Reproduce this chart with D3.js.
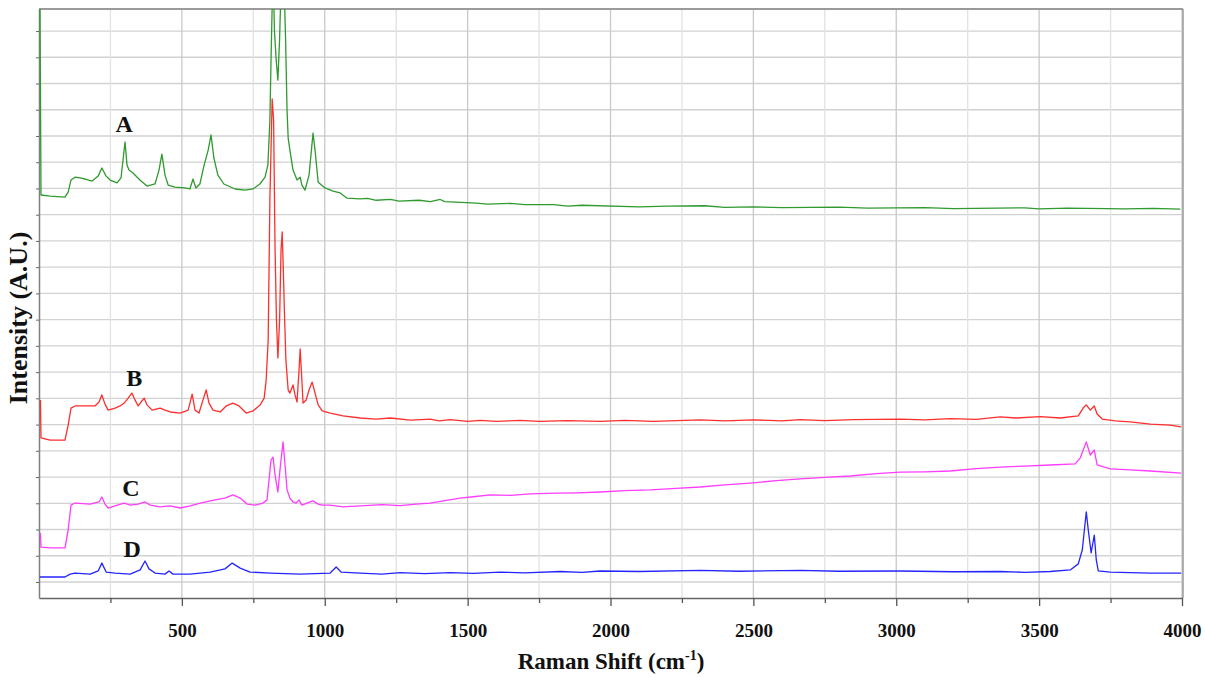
<!DOCTYPE html>
<html>
<head>
<meta charset="utf-8">
<script src="https://cdn.jsdelivr.net/npm/d3@7"></script>
<style>
	body { margin: 0; background: #fff; }
	#graphicContainer { width: 1205px; height: 677px; }
	.label { font-family: "Liberation Serif", "Times New Roman", serif; font-weight: bold; fill: #111; }
</style>
</head>
<body>
<div id="graphicContainer"></div>
<script>

// Raman shift (cm-1) and intensity (a.u., one unit = one grid row)
var shiftA = [3, 7, 39, 91, 102, 112, 126, 144, 161, 186, 207, 220, 235, 249, 273, 287, 301, 308, 315, 329, 353, 378, 406, 420, 430, 441, 452, 476, 511, 528, 539, 549, 563, 577, 592, 602, 612, 626, 647, 686, 721, 749, 773, 791, 801, 808, 812, 819, 824, 830, 836, 842, 849, 857, 863, 868, 872, 878, 889, 903, 914, 920, 931, 945, 959, 966, 977, 1001, 1029, 1054, 1078, 1124, 1150, 1180, 1230, 1260, 1330, 1370, 1404, 1420, 1460, 1530, 1570, 1650, 1700, 1800, 1850, 1900, 2100, 2200, 2330, 2400, 2500, 2600, 2800, 2900, 3100, 3200, 3450, 3500, 3600, 3800, 3900, 3994]
var intA = [23, 14.75, 14.71, 14.67, 14.86, 15.32, 15.43, 15.40, 15.36, 15.28, 15.47, 15.78, 15.47, 15.32, 15.21, 15.40, 16.77, 15.89, 15.70, 15.59, 15.32, 15.09, 15.17, 15.70, 16.31, 15.51, 15.13, 15.05, 15.02, 14.98, 15.36, 15.02, 15.17, 15.85, 16.46, 17.04, 16.16, 15.51, 15.17, 14.98, 14.94, 14.98, 15.17, 15.43, 15.89, 17.61, 19.9, 23.5, 21.0, 19.9, 19.13, 20.7, 23.5, 23.0, 20.66, 17.99, 16.92, 16.46, 15.70, 15.32, 15.43, 15.13, 14.94, 15.51, 17.11, 16.46, 15.24, 15.02, 14.90, 14.83, 14.63, 14.60, 14.62, 14.55, 14.58, 14.52, 14.55, 14.50, 14.58, 14.50, 14.48, 14.44, 14.40, 14.43, 14.38, 14.38, 14.33, 14.36, 14.30, 14.33, 14.34, 14.28, 14.30, 14.27, 14.29, 14.25, 14.27, 14.23, 14.26, 14.22, 14.25, 14.22, 14.24, 14.21]

var shiftB = [5, 7, 39, 91, 102, 112, 126, 161, 196, 210, 220, 231, 242, 266, 284, 298, 312, 325, 336, 347, 357, 368, 378, 396, 424, 441, 459, 494, 522, 536, 546, 560, 574, 585, 595, 609, 634, 655, 679, 700, 725, 749, 774, 788, 795, 802, 808, 816, 821, 826, 831, 836, 842, 847, 851, 854, 859, 864, 872, 878, 889, 896, 903, 910, 914, 919, 924, 935, 945, 956, 966, 977, 991, 1019, 1064, 1124, 1180, 1229, 1300, 1369, 1400, 1439, 1500, 1544, 1600, 1684, 1750, 1850, 1964, 2050, 2150, 2314, 2400, 2500, 2600, 2664, 2750, 2850, 3014, 3100, 3189, 3280, 3364, 3420, 3504, 3574, 3637, 3654, 3665, 3679, 3693, 3703, 3721, 3766, 3819, 3889, 3959, 3997]
var intB = [6.94, 5.49, 5.41, 5.41, 5.98, 6.63, 6.71, 6.71, 6.71, 6.86, 7.13, 6.78, 6.55, 6.63, 6.71, 6.82, 7.01, 7.20, 6.94, 6.71, 6.86, 7.01, 6.75, 6.55, 6.63, 6.55, 6.48, 6.44, 6.55, 7.16, 6.55, 6.44, 6.94, 7.32, 6.82, 6.55, 6.48, 6.71, 6.82, 6.71, 6.44, 6.52, 6.75, 7.01, 7.70, 9.22, 14.56, 18.41, 17.61, 12.77, 9.98, 8.54, 9.98, 12.65, 13.34, 12.27, 10.25, 8.46, 7.32, 7.20, 7.51, 7.13, 6.86, 8.08, 8.88, 7.89, 6.82, 6.94, 7.32, 7.62, 7.20, 6.75, 6.52, 6.44, 6.33, 6.25, 6.21, 6.25, 6.17, 6.21, 6.14, 6.19, 6.12, 6.16, 6.12, 6.16, 6.12, 6.15, 6.12, 6.16, 6.12, 6.18, 6.14, 6.18, 6.14, 6.19, 6.15, 6.19, 6.21, 6.18, 6.23, 6.20, 6.29, 6.25, 6.30, 6.25, 6.33, 6.63, 6.75, 6.55, 6.71, 6.40, 6.21, 6.14, 6.10, 6.02, 5.98, 5.91]

var shiftC = [5, 7, 39, 91, 102, 112, 126, 179, 210, 220, 231, 242, 266, 298, 319, 347, 371, 389, 424, 459, 494, 529, 564, 616, 651, 679, 704, 728, 756, 784, 798, 805, 812, 819, 826, 836, 845, 854, 861, 868, 878, 889, 900, 910, 920, 938, 959, 977, 991, 1019, 1064, 1124, 1200, 1264, 1320, 1369, 1420, 1474, 1520, 1579, 1650, 1719, 1806, 1880, 1964, 2050, 2139, 2230, 2314, 2400, 2489, 2580, 2664, 2750, 2839, 2930, 3014, 3100, 3189, 3280, 3364, 3450, 3539, 3626, 3644, 3665, 3679, 3693, 3703, 3749, 3819, 3889, 3997]
var intC = [1.87, 1.33, 1.30, 1.30, 1.98, 2.93, 3.01, 2.97, 3.05, 3.24, 2.97, 2.82, 2.90, 3.01, 2.93, 2.97, 3.05, 2.93, 2.86, 2.90, 2.82, 2.90, 3.01, 3.13, 3.20, 3.32, 3.20, 2.97, 2.93, 3.01, 3.13, 3.89, 4.65, 4.76, 4.08, 3.43, 4.46, 5.34, 4.46, 3.51, 3.20, 3.05, 3.01, 3.13, 2.93, 3.01, 3.09, 2.97, 2.93, 2.93, 2.86, 2.90, 2.95, 2.91, 2.97, 3.01, 3.10, 3.20, 3.25, 3.32, 3.30, 3.36, 3.39, 3.40, 3.43, 3.48, 3.51, 3.57, 3.62, 3.70, 3.77, 3.86, 3.93, 3.99, 4.04, 4.13, 4.19, 4.20, 4.23, 4.32, 4.38, 4.42, 4.46, 4.50, 4.73, 5.34, 4.84, 5.03, 4.46, 4.31, 4.27, 4.23, 4.15]

var shiftD = [3, 91, 109, 126, 179, 207, 220, 235, 266, 319, 354, 371, 385, 406, 441, 455, 469, 529, 599, 651, 676, 704, 739, 809, 914, 1019, 1040, 1057, 1124, 1200, 1264, 1350, 1439, 1520, 1614, 1700, 1824, 1900, 1964, 2100, 2314, 2450, 2664, 2800, 3014, 3200, 3364, 3450, 3539, 3609, 3637, 3651, 3665, 3672, 3682, 3693, 3700, 3707, 3749, 3889, 3997]
var intD = [0.19, 0.19, 0.30, 0.34, 0.30, 0.42, 0.72, 0.38, 0.34, 0.30, 0.46, 0.80, 0.50, 0.34, 0.30, 0.42, 0.30, 0.30, 0.38, 0.50, 0.72, 0.53, 0.38, 0.34, 0.30, 0.34, 0.57, 0.38, 0.34, 0.30, 0.36, 0.32, 0.36, 0.33, 0.38, 0.35, 0.40, 0.37, 0.42, 0.40, 0.44, 0.41, 0.44, 0.41, 0.42, 0.39, 0.40, 0.37, 0.40, 0.46, 0.69, 1.22, 2.67, 1.98, 1.11, 1.79, 0.84, 0.42, 0.38, 0.34, 0.34]

var seriesNames = ["A", "B", "C", "D"]
var labelShift = [298, 333, 322, 326]
var labelInt = [17.15, 7.47, 3.28, 0.95]

var xTicks = d3.range(250, 4001, 250)
var yTicks = d3.range(0, 22)

function init() {

	var width = 1205
	var height = 677
	var margin = {top: 9, right: 23, bottom: 79, left: 39}

	var svg = d3.select("#graphicContainer").append("svg")
				.attr("width", width)
				.attr("height", height)
				.attr("id", "svg")

	var x = d3.scaleLinear().domain([0, 4000]).range([margin.left, width - margin.right])
	var y = d3.scaleLinear().domain([-0.61, 21.84]).range([height - margin.bottom, margin.top])

	var colours = ["#2f9a2f", "#ff2e2e", "#ff3cff", "#2424ff"]
	var shifts = [shiftA, shiftB, shiftC, shiftD]
	var ints = [intA, intB, intC, intD]

	svg.append("defs").append("clipPath")
		.attr("id", "plotClip")
		.append("rect")
		.attr("x", margin.left)
		.attr("y", margin.top)
		.attr("width", width - margin.right - margin.left + 1)
		.attr("height", height - margin.bottom - margin.top)

	// grid
	var grid = svg.append("g").attr("class", "grid")

	grid.selectAll(".hgrid")
		.data(yTicks)
		.enter().append("line")
		.attr("x1", margin.left)
		.attr("x2", width - margin.right)
		.attr("y1", function(d) { return y(d) })
		.attr("y2", function(d) { return y(d) })
		.style("stroke", "#d2d2d2")
		.style("stroke-width", 1.3)

	grid.selectAll(".vgrid")
		.data(xTicks)
		.enter().append("line")
		.attr("x1", function(d) { return x(d) })
		.attr("x2", function(d) { return x(d) })
		.attr("y1", margin.top)
		.attr("y2", height - margin.bottom)
		.style("stroke", function(d) { return d % 500 == 0 ? "#c9c9c9" : "#e2e2e2" })
		.style("stroke-width", 1.3)

	// frame top and right
	svg.append("line")
		.attr("x1", margin.left).attr("x2", width - margin.right + 1)
		.attr("y1", margin.top).attr("y2", margin.top)
		.style("stroke", "#9a9a9a").style("stroke-width", 2)

	svg.append("line")
		.attr("x1", width - margin.right + 1).attr("x2", width - margin.right + 1)
		.attr("y1", margin.top).attr("y2", height - margin.bottom)
		.style("stroke", "#9a9a9a").style("stroke-width", 1.5)

	// axes
	var xAxis = d3.axisBottom(x)
		.tickValues(xTicks)
		.tickSizeInner(8)
		.tickSizeOuter(0)
		.tickPadding(18)
		.tickFormat(function(d) { return d % 500 == 0 ? d : "" })

	var xg = svg.append("g")
		.attr("class", "x")
		.attr("transform", "translate(0," + (height - margin.bottom) + ")")
		.call(xAxis)

	xg.select(".domain").style("stroke", "#666").style("stroke-width", 1.5)
	xg.selectAll(".tick line")
		.attr("y2", function(d) { return d % 500 == 0 ? 8 : 5 })
		.style("stroke", "#555")
		.style("stroke-width", 1.3)
	xg.selectAll(".tick text")
		.attr("class", "label")
		.style("font-size", "19px")
		.style("fill", "#111")

	var yAxis = d3.axisLeft(y)
		.tickValues(yTicks)
		.tickSizeInner(3)
		.tickSizeOuter(0)
		.tickFormat("")

	var yg = svg.append("g")
		.attr("class", "y")
		.attr("transform", "translate(" + margin.left + ",0)")
		.call(yAxis)

	yg.select(".domain").style("stroke", "#808080").style("stroke-width", 1.5)
	yg.selectAll(".tick line").style("stroke", "#666")

	// spectra
	var line = d3.line()
		.x(function(d) { return x(d[0]) })
		.y(function(d) { return y(d[1]) })

	var traces = svg.append("g").attr("clip-path", "url(#plotClip)")

	shifts.forEach(function(s, i) {
		var pts = s.map(function(w, j) { return [w, ints[i][j]] })
		traces.append("path")
			.datum(pts)
			.attr("d", line)
			.style("fill", "none")
			.style("stroke", colours[i])
			.style("stroke-width", 1.3)
			.style("stroke-linejoin", "round")
	})

	// series letters
	svg.selectAll(".seriesLabel")
		.data(seriesNames)
		.enter().append("text")
		.attr("class", "label")
		.attr("x", function(d, i) { return x(labelShift[i]) })
		.attr("y", function(d, i) { return y(labelInt[i]) })
		.attr("text-anchor", "middle")
		.style("font-size", "24px")
		.text(function(d) { return d })

	// axis titles
	var xt = svg.append("text")
		.attr("class", "label")
		.attr("x", 611)
		.attr("y", 669)
		.attr("text-anchor", "middle")
		.style("font-size", "23px")

	xt.append("tspan").text("Raman Shift (cm")
	xt.append("tspan").attr("dy", -9).style("font-size", "14px").text("-1")
	xt.append("tspan").attr("dy", 9).text(")")

	svg.append("text")
		.attr("class", "label")
		.attr("transform", "translate(27,318) rotate(-90)")
		.attr("text-anchor", "middle")
		.style("font-size", "26px")
		.text("Intensity (A.U.)")

}

init()

</script>
</body>
</html>
